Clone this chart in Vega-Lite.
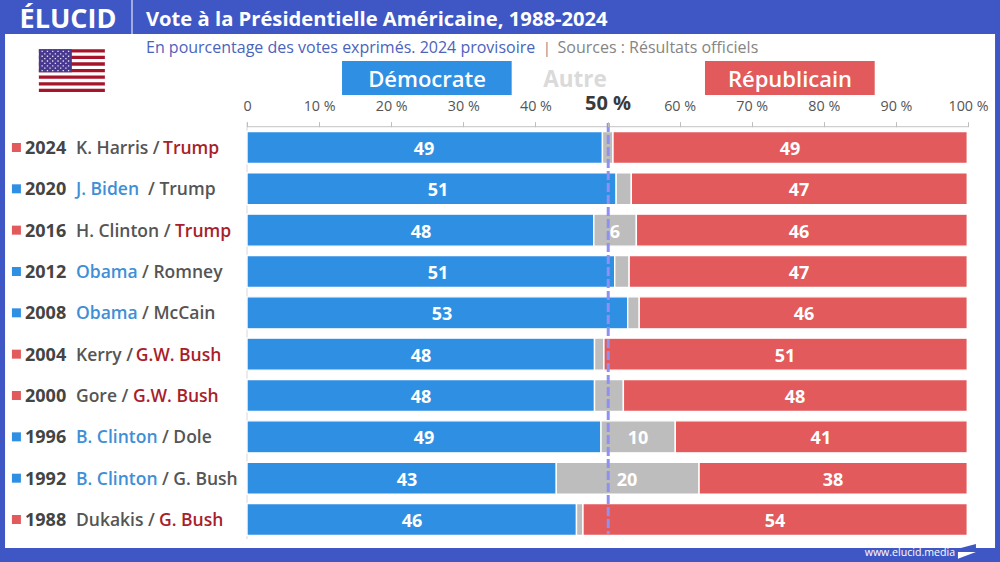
{"$schema":"https://vega.github.io/schema/vega-lite/v6.json","width":1000,"height":562,"padding":0,"autosize":"none","background":"#3F57C4",
"config":{"view":{"stroke":null},"legend":{"disable":true},"text":{"font":"Open Sans"}},
"resolve":{"axis":{"x":"independent"}},
"datasets":{"une":[{"n":1}],
"resultats":[
{"year":2024,"parti":"Démocrate","start":0,"end":49.3,"label":"49","centre":24.55},{"year":2024,"parti":"Autre","start":49.3,"end":50.76},{"year":2024,"parti":"Républicain","start":50.76,"end":99.9,"label":"49","centre":75.31},
{"year":2020,"parti":"Démocrate","start":0,"end":51.2,"label":"51","centre":26.49},{"year":2020,"parti":"Autre","start":51.2,"end":53.3},{"year":2020,"parti":"Républicain","start":53.3,"end":99.9,"label":"47","centre":76.56},
{"year":2016,"parti":"Démocrate","start":0,"end":48.1,"label":"48","centre":24.13},{"year":2016,"parti":"Autre","start":48.1,"end":54.0,"label":"6","centre":51.04},{"year":2016,"parti":"Républicain","start":54.0,"end":99.9,"label":"46","centre":76.56},
{"year":2012,"parti":"Démocrate","start":0,"end":51.0,"label":"51","centre":26.49},{"year":2012,"parti":"Autre","start":51.0,"end":53.0},{"year":2012,"parti":"Républicain","start":53.0,"end":99.9,"label":"47","centre":76.56},
{"year":2008,"parti":"Démocrate","start":0,"end":52.8,"label":"53","centre":27.05},{"year":2008,"parti":"Autre","start":52.8,"end":54.4},{"year":2008,"parti":"Républicain","start":54.4,"end":99.9,"label":"46","centre":77.25},
{"year":2004,"parti":"Démocrate","start":0,"end":48.2,"label":"48","centre":24.13},{"year":2004,"parti":"Autre","start":48.2,"end":49.5},{"year":2004,"parti":"Républicain","start":49.5,"end":99.9,"label":"51","centre":74.62},
{"year":2000,"parti":"Démocrate","start":0,"end":48.2,"label":"48","centre":24.13},{"year":2000,"parti":"Autre","start":48.2,"end":52.2},{"year":2000,"parti":"Républicain","start":52.2,"end":99.9,"label":"48","centre":76.0},
{"year":1996,"parti":"Démocrate","start":0,"end":49.1,"label":"49","centre":24.55},{"year":1996,"parti":"Autre","start":49.1,"end":59.4,"label":"10","centre":54.23},{"year":1996,"parti":"Républicain","start":59.4,"end":99.9,"label":"41","centre":79.6},
{"year":1992,"parti":"Démocrate","start":0,"end":42.9,"label":"43","centre":22.19},{"year":1992,"parti":"Autre","start":42.9,"end":62.7,"label":"20","centre":52.7},{"year":1992,"parti":"Républicain","start":62.7,"end":99.9,"label":"38","centre":81.28},
{"year":1988,"parti":"Démocrate","start":0,"end":45.7,"label":"46","centre":22.88},{"year":1988,"parti":"Autre","start":45.7,"end":46.6},{"year":1988,"parti":"Républicain","start":46.6,"end":99.9,"label":"54","centre":73.23}],
"annees":[{"year":2024,"vainqueur":"Républicain"},{"year":2020,"vainqueur":"Démocrate"},{"year":2016,"vainqueur":"Républicain"},{"year":2012,"vainqueur":"Démocrate"},{"year":2008,"vainqueur":"Démocrate"},{"year":2004,"vainqueur":"Républicain"},{"year":2000,"vainqueur":"Républicain"},{"year":1996,"vainqueur":"Démocrate"},{"year":1992,"vainqueur":"Démocrate"},{"year":1988,"vainqueur":"Républicain"}],
"noms":[
{"year":2024,"texte":"K. Harris /","ton":"perdant","at":-23.72},{"year":2024,"texte":"Trump","ton":"élu R","at":-11.65},
{"year":2020,"texte":"J. Biden","ton":"élu D","at":-23.72},{"year":2020,"texte":"/ Trump","ton":"perdant","at":-13.73},
{"year":2016,"texte":"H. Clinton /","ton":"perdant","at":-23.72},{"year":2016,"texte":"Trump","ton":"élu R","at":-9.99},
{"year":2012,"texte":"Obama","ton":"élu D","at":-23.72},{"year":2012,"texte":"/ Romney","ton":"perdant","at":-14.56},
{"year":2008,"texte":"Obama","ton":"élu D","at":-23.72},{"year":2008,"texte":"/ McCain","ton":"perdant","at":-14.56},
{"year":2004,"texte":"Kerry /","ton":"perdant","at":-23.72},{"year":2004,"texte":"G.W. Bush","ton":"élu R","at":-15.44},
{"year":2000,"texte":"Gore /","ton":"perdant","at":-23.72},{"year":2000,"texte":"G.W. Bush","ton":"élu R","at":-15.81},
{"year":1996,"texte":"B. Clinton","ton":"élu D","at":-23.72},{"year":1996,"texte":"/ Dole","ton":"perdant","at":-11.79},
{"year":1992,"texte":"B. Clinton","ton":"élu D","at":-23.72},{"year":1992,"texte":"/ G. Bush","ton":"perdant","at":-11.79},
{"year":1988,"texte":"Dukakis /","ton":"perdant","at":-23.72},{"year":1988,"texte":"G. Bush","ton":"élu R","at":-12.2}]},
"layer":[
{"data":{"name":"une"},"mark":{"type":"rect","fill":"#ffffff"},"encoding":{"x":{"datum":-33.56,"type":"quantitative","axis":null,"scale":{"domain":[-34.258,104.438],"nice":false,"zero":false,"padding":0}},"x2":{"datum":103.75},"y":{"datum":2034.98,"type":"quantitative","axis":null,"scale":{"domain":[1983.89,2038.27],"nice":false,"zero":false,"padding":0}},"y2":{"datum":1985.24}}},
{"data":{"name":"une"},"mark":{"type":"rule","color":"#ffffff","strokeWidth":1},"encoding":{"x":{"datum":-15.95,"type":"quantitative","axis":null},"y":{"datum":2038.27,"type":"quantitative","axis":null},"y2":{"datum":2034.98}}},
{"data":{"name":"une"},"mark":{"type":"text","text":"ÉLUCID","font":"Open Sans","fontWeight":"bold","fontSize":27,"fill":"#ffffff","align":"center","baseline":"middle"},"encoding":{"x":{"datum":-24.83,"type":"quantitative","axis":null},"y":{"datum":2036.34,"type":"quantitative","axis":null}}},
{"data":{"name":"une"},"mark":{"type":"text","text":"Vote à la Présidentielle Américaine, 1988-2024","fontWeight":"bold","fontSize":20.2,"fill":"#ffffff","align":"left","baseline":"middle"},"encoding":{"x":{"datum":-14.01,"type":"quantitative","axis":null},"y":{"datum":2036.34,"type":"quantitative","axis":null}}},
{"data":{"name":"une"},"mark":{"type":"text","text":"En pourcentage des votes exprimés. 2024 provisoire","fontSize":16,"dy":1,"fill":"#4C63BC","align":"left","baseline":"middle"},"encoding":{"x":{"datum":-14.01,"type":"quantitative","axis":null},"y":{"datum":2033.73,"type":"quantitative","axis":null}}},
{"data":{"name":"une"},"mark":{"type":"text","text":"|","fontSize":15,"dy":1,"fill":"#8a8a8a","align":"center","baseline":"middle"},"encoding":{"x":{"datum":41.6,"type":"quantitative","axis":null},"y":{"datum":2033.73,"type":"quantitative","axis":null}}},
{"data":{"name":"une"},"mark":{"type":"text","text":"Sources : Résultats officiels","fontSize":16,"dy":1,"fill":"#858585","align":"left","baseline":"middle"},"encoding":{"x":{"datum":43.07,"type":"quantitative","axis":null},"y":{"datum":2033.73,"type":"quantitative","axis":null}}},
{"data":{"name":"une"},"mark":{"type":"rect","fill":"#2F8FE3"},"encoding":{"x":{"datum":13.18,"type":"quantitative","axis":null},"x2":{"datum":36.71},"y":{"datum":2032.37,"type":"quantitative","axis":null},"y2":{"datum":2029.08}}},
{"data":{"name":"une"},"mark":{"type":"rect","fill":"#E25A5C"},"encoding":{"x":{"datum":63.52,"type":"quantitative","axis":null},"x2":{"datum":87.06},"y":{"datum":2032.37,"type":"quantitative","axis":null},"y2":{"datum":2029.08}}},
{"data":{"name":"une"},"mark":{"type":"text","text":"Démocrate","fontSize":22,"fontWeight":600,"dy":1,"fill":"#ffffff","align":"center","baseline":"middle"},"encoding":{"x":{"datum":24.97,"type":"quantitative","axis":null},"y":{"datum":2030.63,"type":"quantitative","axis":null}}},
{"data":{"name":"une"},"mark":{"type":"text","text":"Autre","fontSize":22.5,"fontWeight":"bold","dy":1,"fill":"#DADADA","align":"center","baseline":"middle"},"encoding":{"x":{"datum":45.49,"type":"quantitative","axis":null},"y":{"datum":2030.63,"type":"quantitative","axis":null}}},
{"data":{"name":"une"},"mark":{"type":"text","text":"Républicain","fontSize":22,"fontWeight":600,"dy":1,"fill":"#ffffff","align":"center","baseline":"middle"},"encoding":{"x":{"datum":75.31,"type":"quantitative","axis":null},"y":{"datum":2030.63,"type":"quantitative","axis":null}}},
{"data":{"name":"une"},"mark":{"type":"point","filled":true,"opacity":1,"size":4356,"color":"#ffffff","shape":"M-1 -.648H1V.648H-1Z"},"encoding":{"x":{"datum":-24.29,"type":"quantitative","axis":null},"y":{"datum":2031.44,"type":"quantitative","axis":null}}},
{"data":{"name":"une"},"mark":{"type":"point","filled":true,"opacity":1,"size":4356,"color":"#A5142B","shape":"M-1 -.648H1V-.548H-1Z M-1 -.449H1V-.349H-1Z M-1 -.249H1V-.149H-1Z M-1 -.049H1V.05H-1Z M-1 .15H1V.25H-1Z M-1 .35H1V.449H-1Z M-1 .549H1V.648H-1Z"},"encoding":{"x":{"datum":-24.29,"type":"quantitative","axis":null},"y":{"datum":2031.44,"type":"quantitative","axis":null}}},
{"data":{"name":"une"},"mark":{"type":"point","filled":true,"opacity":1,"size":4356,"color":"#48388F","shape":"M-1 -.648H0V.049H-1Z"},"encoding":{"x":{"datum":-24.29,"type":"quantitative","axis":null},"y":{"datum":2031.44,"type":"quantitative","axis":null}}},
{"data":{"name":"une"},"mark":{"type":"point","filled":true,"opacity":1,"size":4356,"color":"#E6E2F2","shape":"M-.92 -.6h.04v.04h-.04zM-.76 -.6h.04v.04h-.04zM-.6 -.6h.04v.04h-.04zM-.44 -.6h.04v.04h-.04zM-.28 -.6h.04v.04h-.04zM-.12 -.6h.04v.04h-.04zM-.84 -.527h.04v.04h-.04zM-.68 -.527h.04v.04h-.04zM-.52 -.527h.04v.04h-.04zM-.36 -.527h.04v.04h-.04zM-.2 -.527h.04v.04h-.04zM-.92 -.455h.04v.04h-.04zM-.76 -.455h.04v.04h-.04zM-.6 -.455h.04v.04h-.04zM-.44 -.455h.04v.04h-.04zM-.28 -.455h.04v.04h-.04zM-.12 -.455h.04v.04h-.04zM-.84 -.382h.04v.04h-.04zM-.68 -.382h.04v.04h-.04zM-.52 -.382h.04v.04h-.04zM-.36 -.382h.04v.04h-.04zM-.2 -.382h.04v.04h-.04zM-.92 -.31h.04v.04h-.04zM-.76 -.31h.04v.04h-.04zM-.6 -.31h.04v.04h-.04zM-.44 -.31h.04v.04h-.04zM-.28 -.31h.04v.04h-.04zM-.12 -.31h.04v.04h-.04zM-.84 -.237h.04v.04h-.04zM-.68 -.237h.04v.04h-.04zM-.52 -.237h.04v.04h-.04zM-.36 -.237h.04v.04h-.04zM-.2 -.237h.04v.04h-.04zM-.92 -.165h.04v.04h-.04zM-.76 -.165h.04v.04h-.04zM-.6 -.165h.04v.04h-.04zM-.44 -.165h.04v.04h-.04zM-.28 -.165h.04v.04h-.04zM-.12 -.165h.04v.04h-.04zM-.84 -.092h.04v.04h-.04zM-.68 -.092h.04v.04h-.04zM-.52 -.092h.04v.04h-.04zM-.36 -.092h.04v.04h-.04zM-.2 -.092h.04v.04h-.04zM-.92 -.02h.04v.04h-.04zM-.76 -.02h.04v.04h-.04zM-.6 -.02h.04v.04h-.04zM-.44 -.02h.04v.04h-.04zM-.28 -.02h.04v.04h-.04zM-.12 -.02h.04v.04h-.04z"},"encoding":{"x":{"datum":-24.29,"type":"quantitative","axis":null},"y":{"datum":2031.44,"type":"quantitative","axis":null}}},
{"data":{"name":"une"},"mark":{"type":"rule","color":"#CFCFCF","strokeWidth":1.3},"encoding":{"x":{"datum":0,"type":"quantitative","axis":null},"x2":{"datum":100},"y":{"datum":2026.01,"type":"quantitative","axis":null}}},
{"data":{"name":"une"},"mark":{"type":"rule","color":"#D8D8D8","strokeWidth":1},"encoding":{"x":{"datum":0,"type":"quantitative","axis":null},"y":{"datum":2026.47,"type":"quantitative","axis":null},"y2":{"datum":1986.11}}},
{"data":{"name":"resultats"},"mark":{"type":"bar","orient":"horizontal","size":32,"stroke":"#ffffff","strokeWidth":1.4},"encoding":{"x":{"field":"start","type":"quantitative","axis":{"orient":"top","offset":-126.7,"values":[0,10,20,30,40,50,60,70,80,90,100],"domain":false,"grid":false,"title":null,"ticks":true,"labels":true,"tickColor":"#bdbdbd","tickSize":5,"tickWidth":1,"labelPadding":8,"labelFont":"Open Sans","labelOverlap":false,"labelFlush":false,"labelColor":{"condition":{"test":"datum.value==50","value":"#3a3a3a"},"value":"#555555"},"labelFontSize":{"condition":{"test":"datum.value==50","value":20},"value":14.3},"labelFontWeight":{"condition":{"test":"datum.value==50","value":"bold"},"value":"normal"},"labelExpr":"datum.value==0?'0':datum.value+' %'","zindex":1}},"x2":{"field":"end"},"y":{"field":"year","type":"quantitative","axis":null},"color":{"field":"parti","type":"nominal","scale":{"domain":["Démocrate","Autre","Républicain","élu D","élu R","perdant"],"range":["#2F8FE3","#BDBDBD","#E25A5C","#3F8FD6","#A81E2A","#555555"]}}}},
{"data":{"name":"une"},"mark":{"type":"rule","color":"#8F90F0","strokeWidth":3,"strokeDash":[9,3]},"encoding":{"x":{"datum":50.1,"type":"quantitative","axis":null},"y":{"datum":2026.37,"type":"quantitative","axis":null},"y2":{"datum":1986.6}}},
{"data":{"name":"resultats"},"transform":[{"filter":"datum.label"}],"mark":{"type":"text","fontSize":18,"fontWeight":"bold","dy":2.5,"fill":"#ffffff","align":"center","baseline":"middle"},"encoding":{"x":{"field":"centre","type":"quantitative","axis":null},"y":{"field":"year","type":"quantitative","axis":null},"text":{"field":"label","type":"nominal"}}},
{"data":{"name":"annees"},"mark":{"type":"point","filled":true,"opacity":1,"shape":"square","size":81,"strokeWidth":0},"encoding":{"x":{"datum":-31.98,"type":"quantitative","axis":null},"y":{"field":"year","type":"quantitative","axis":null},"color":{"field":"vainqueur","type":"nominal"}}},
{"data":{"name":"annees"},"mark":{"type":"text","fontSize":18,"fontWeight":"bold","dy":1.5,"fill":"#444444","align":"left","baseline":"middle"},"encoding":{"x":{"datum":-30.79,"type":"quantitative","axis":null},"y":{"field":"year","type":"quantitative","axis":null},"text":{"field":"year","type":"nominal"}}},
{"data":{"name":"noms"},"mark":{"type":"text","fontSize":17.5,"fontWeight":600,"dy":1.5,"align":"left","baseline":"middle"},"encoding":{"x":{"field":"at","type":"quantitative","axis":null},"y":{"field":"year","type":"quantitative","axis":null},"text":{"field":"texte","type":"nominal"},"color":{"field":"ton","type":"nominal"}}},
{"data":{"name":"une"},"mark":{"type":"text","text":"www.elucid.media","fontSize":10.6,"fill":"#ffffff","align":"right","baseline":"middle"},"encoding":{"x":{"datum":98.2,"type":"quantitative","axis":null},"y":{"datum":1984.76,"type":"quantitative","axis":null}}},
{"data":{"name":"une"},"mark":{"type":"point","filled":true,"opacity":1,"size":324,"color":"#3F57C4","shape":"M-1 -.28L1 -.83L1 .06L-1 .06Z"},"encoding":{"x":{"datum":99.85,"type":"quantitative","axis":null},"y":{"datum":1984.92,"type":"quantitative","axis":null}}},
{"data":{"name":"une"},"mark":{"type":"point","filled":true,"opacity":1,"size":324,"color":"#ffffff","shape":"M-1 .06L1 .06L-1 .83Z"},"encoding":{"x":{"datum":99.85,"type":"quantitative","axis":null},"y":{"datum":1984.92,"type":"quantitative","axis":null}}}
]}
